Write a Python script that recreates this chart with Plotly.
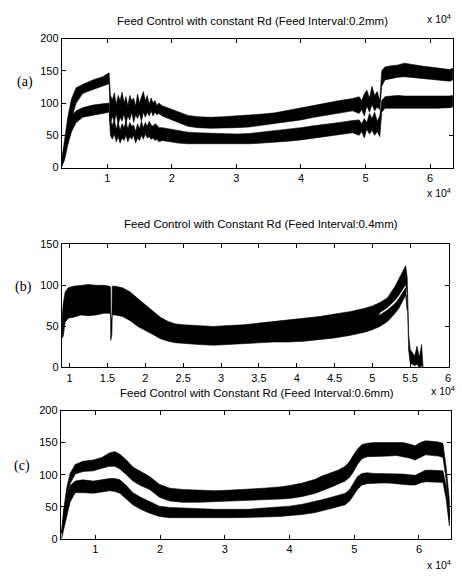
import plotly.graph_objects as go

# ---------------- Panel (a): feed interval 0.2 mm ----------------
x_a = [2900, 3400, 3900, 4450, 5200, 6200, 7800, 9300, 10300,
       10500, 10800, 11100, 11400, 11700, 12000, 12300, 12600, 12900, 13200, 13500, 13800, 14100, 14400,
       14700, 15000, 15300, 15600, 15900, 16200, 16500, 16800, 17100, 17400, 17700, 18000, 18500,
       19500, 21000, 22500, 24000, 26000, 28000, 30000, 32000, 34000, 36000, 38000, 40000, 42000, 44000,
       46000, 48000,
       49000, 49400, 49800, 50200, 50600, 51000, 51400, 51800, 52200,
       52500, 53000, 54000, 55000, 56000, 57000, 58000, 59000, 60000, 61000, 62000, 63000, 63500]
a_upper_top = [8, 45, 78, 106, 124, 129, 136, 141, 147,
               112, 105, 116, 98, 112, 104, 117, 100, 110, 96, 112, 104, 108, 95,
               114, 100, 110, 118, 104, 112, 98, 108, 100, 104, 96, 100, 96,
               92, 86, 81, 79, 78, 79, 80, 81, 83, 85, 89, 93, 97, 100,
               104, 107,
               110, 104, 114, 120, 108, 126, 112, 118, 104,
               150, 156, 158, 159, 162, 160, 158, 157, 156, 155, 153, 152, 154]
a_upper_bot = [0, 20, 45, 75, 100, 115, 121, 126, 130,
               66, 80, 70, 84, 66, 78, 72, 84, 68, 80, 74, 86, 70, 82,
               76, 84, 72, 86, 78, 86, 80, 88, 80, 86, 82, 84, 80,
               76, 70, 64, 62, 61, 61, 62, 63, 65, 68, 71, 74, 78, 81,
               85, 88,
               84, 90, 80, 96, 86, 98, 88, 94, 90,
               126, 136, 138, 140, 141, 140, 139, 138, 137, 136, 135, 134, 136]
a_lower_top = [4, 30, 62, 80, 88, 93, 97, 99, 100,
               72, 66, 74, 60, 70, 58, 68, 62, 72, 60, 70, 64, 66, 56,
               68, 60, 72, 62, 70, 64, 72, 66, 64, 68, 66, 62, 62,
               60, 57, 55, 54, 53, 52, 52, 53, 55, 57, 59, 62, 65, 67,
               70, 73,
               74, 68, 76, 70, 84, 76, 86, 72, 80,
               104, 110, 111, 112, 111, 111, 110, 110, 110, 110, 110, 111, 112]
a_lower_bot = [0, 12, 35, 55, 70, 78, 82, 84, 86,
               50, 44, 52, 40, 48, 38, 46, 42, 50, 40, 48, 44, 50, 38,
               46, 42, 50, 44, 52, 46, 48, 44, 46, 42, 44, 40, 42,
               40, 38, 37, 36, 36, 36, 37, 37, 38, 39, 41, 43, 46, 48,
               51, 54,
               50, 56, 46, 60, 52, 58, 50, 56, 48,
               86, 92, 93, 93, 93, 92, 92, 92, 92, 92, 92, 93, 94]

# ---------------- Panel (b): feed interval 0.4 mm ----------------
x_b = [9000, 9150, 9400, 9800, 10500, 11500, 12500, 13500, 14500, 15300, 15400, 15430, 15580, 15620,
       16000, 17000, 18000, 19000, 20000, 21000, 22000, 23000, 24000, 25000, 27000, 29000, 31000, 33000,
       35000, 37000, 39000, 41000, 43000, 45000, 47000, 49000, 50000, 51000, 52000, 53000, 53500, 54000,
       54400, 54600, 54800, 55000, 55300, 55600, 55900, 56200, 56500, 56700]
b_upper_top = [60, 78, 92, 97, 99, 100, 101, 100, 100, 99, 98, 60, 60, 99,
               99, 97, 92, 84, 76, 68, 61, 56, 53, 52, 51, 50, 51, 52,
               54, 56, 58, 60, 62, 65, 68, 72, 75, 79, 85, 99, 108, 117,
               124, 110, 40, 22, 18, 14, 26, 12, 28, 2]
b_upper_bot = [36, 38, 55, 60, 61, 64, 63, 64, 66, 66, 64, 33, 40, 64,
               64, 62, 57, 50, 45, 40, 35, 32, 30, 29, 28, 27, 28, 29,
               30, 31, 31, 32, 34, 36, 39, 43, 46, 67, 73, 82, 88, 95,
               101, 90, 20, 5, 4, 2, 4, 0, 2, 0]
x_b_low = [50000, 51000, 52000, 53000, 53500, 54000, 54400, 54600]
b_lower_top = [60, 64, 70, 78, 84, 91, 97, 72]
b_lower_bot = [46, 50, 56, 66, 72, 80, 88, 70]

# ---------------- Panel (c): feed interval 0.6 mm ----------------
x_c = [4800, 5100, 5600, 6100, 6900, 8100, 9700, 11000, 12200, 13000, 13800, 14800, 15800, 17000,
       18400, 19900, 21500, 23500, 26000, 28500, 31000, 33500, 36000, 38500, 40000, 42000, 44000,
       45000, 46500, 47500, 48600, 49300, 49900, 50500, 51200, 52000, 53000, 54000, 55300, 56500,
       57500, 58500, 59400, 60200, 61000, 62000, 63000, 63700, 64200, 64700]
c_upper_top = [10, 45, 80, 102, 116, 121, 123, 127, 134, 136, 132, 123, 112, 105,
               97, 85, 79, 77, 76, 75, 76, 77, 79, 81, 83, 87, 93,
               98, 103, 107, 113, 121, 131, 140, 147, 149, 150, 150, 151, 151,
               150, 148, 145, 150, 153, 152, 151, 149, 112, 60]
c_upper_bot = [8, 32, 65, 86, 101, 105, 106, 110, 113, 113, 109, 100, 90, 83,
               77, 65, 59, 57, 57, 57, 58, 59, 61, 62, 63, 66, 71,
               75, 81, 85, 90, 96, 105, 116, 125, 128, 129, 129, 129, 130,
               128, 126, 123, 127, 131, 130, 129, 127, 92, 30]
c_lower_top = [10, 40, 65, 83, 90, 92, 90, 92, 94, 94, 92, 83, 72, 65,
               58, 51, 49, 48, 47, 46, 46, 46, 48, 50, 51, 54, 58,
               61, 65, 68, 71, 77, 87, 97, 102, 103, 102, 102, 102, 102,
               101, 100, 99, 103, 107, 107, 106, 106, 82, 40]
c_lower_bot = [0, 14, 37, 57, 72, 72, 71, 73, 75, 74, 71, 62, 53, 46,
               40, 35, 33, 33, 33, 33, 33, 33, 34, 35, 36, 38, 41,
               43, 47, 50, 53, 59, 68, 77, 84, 86, 86, 87, 87, 86,
               85, 84, 84, 87, 89, 89, 88, 88, 62, 20]

# ---------------- Axis ticks ----------------
xt_a = [10000, 20000, 30000, 40000, 50000, 60000]
xl_a = ["1", "2", "3", "4", "5", "6"]
xt_b = [10000, 15000, 20000, 25000, 30000, 35000, 40000, 45000, 50000, 55000, 60000]
xl_b = ["1", "1.5", "2", "2.5", "3", "3.5", "4", "4.5", "5", "5.5", "6"]
xt_c = [10000, 20000, 30000, 40000, 50000, 60000]
xl_c = ["1", "2", "3", "4", "5", "6"]
yt_a = [0, 50, 100, 150, 200]
yt_b = [0, 50, 100, 150]
yt_c = [0, 50, 100, 150, 200]

titles = ["Feed Control with constant Rd (Feed Interval:0.2mm)",
          "Feed Control with Constant Rd (Feed Interval:0.4mm)",
          "Feed Control with Constant Rd (Feed Interval:0.6mm)"]
panel_tags = ["(a)", "(b)", "(c)"]

W, H = 462, 586
fig = go.Figure()


def band(x, top, bot, xa, ya):
    fig.add_trace(go.Scatter(
        x=list(x) + list(x)[::-1], y=list(top) + list(bot)[::-1],
        mode="lines", fill="toself", fillcolor="black",
        line=dict(color="black", width=0.6),
        xaxis=xa, yaxis=ya, hoverinfo="skip", showlegend=False))


band(x_a, a_upper_top, a_upper_bot, "x", "y")
band(x_a, a_lower_top, a_lower_bot, "x", "y")
band(x_b, b_upper_top, b_upper_bot, "x2", "y2")
band(x_b_low, b_lower_top, b_lower_bot, "x2", "y2")
band(x_c, c_upper_top, c_upper_bot, "x3", "y3")
band(x_c, c_lower_top, c_lower_bot, "x3", "y3")

tickfont = dict(family="Arial, Liberation Sans, sans-serif", size=11, color="black")
common = dict(showline=True, linecolor="black", linewidth=1, mirror="ticks", ticks="inside",
              ticklen=4, tickcolor="black", showgrid=False, zeroline=False, tickfont=tickfont,
              fixedrange=True)


def dom_x(l, r):
    return [l / W, r / W]


def dom_y(top, bottom):
    return [1 - bottom / H, 1 - top / H]


fig.update_layout(
    width=W, height=H, margin=dict(l=0, r=0, t=0, b=0),
    paper_bgcolor="white", plot_bgcolor="white", showlegend=False,
    xaxis=dict(domain=dom_x(62, 455), range=[2960, 63540], tickvals=xt_a, ticktext=xl_a, anchor="y", **common),
    yaxis=dict(domain=dom_y(33.3, 165), range=[0, 200], tickvals=yt_a, anchor="x", **common),
    xaxis2=dict(domain=dom_x(62, 451), range=[8950, 60130], tickvals=xt_b, ticktext=xl_b, anchor="y2", **common),
    yaxis2=dict(domain=dom_y(243.3, 369), range=[0, 150], tickvals=yt_b, anchor="x2", **common),
    xaxis3=dict(domain=dom_x(61, 453.3), range=[4660, 65000], tickvals=xt_c, ticktext=xl_c, anchor="y3", **common),
    yaxis3=dict(domain=dom_y(413, 544), range=[0, 200], tickvals=yt_c, anchor="x3", **common),
)

tfont = dict(family="Arial, Liberation Sans, sans-serif", size=11.5, color="black")
efont = dict(family="Arial, Liberation Sans, sans-serif", size=10.5, color="black")
sfont = dict(family="Liberation Serif, Times New Roman, serif", size=14, color="black")


def ann(text, px, py, font, xanchor="center"):
    fig.add_annotation(text=text, x=px / W, y=1 - py / H, xref="paper", yref="paper",
                       showarrow=False, font=font, xanchor=xanchor, yanchor="middle")


ann(titles[0], 254, 15, tfont)
ann(titles[1], 262, 223, tfont)
ann(titles[2], 258, 395, tfont)
ann("x 10<sup>4</sup>", 455, 13, efont, "right")
ann("x 10<sup>4</sup>", 455, 190, efont, "right")
ann("x 10<sup>4</sup>", 459, 393, efont, "right")
ann("x 10<sup>4</sup>", 455, 570, efont, "right")
ann(panel_tags[0], 25, 78, sfont)
ann(panel_tags[1], 24, 287, sfont)
ann(panel_tags[2], 22, 470, sfont)

# remove the default page margin so the 462x586 figure fills the window exactly
fig.write_html("out.html",
               config={"displayModeBar": False, "staticPlot": True},
               post_script="document.body.style.margin='0';document.body.style.overflow='hidden';")
